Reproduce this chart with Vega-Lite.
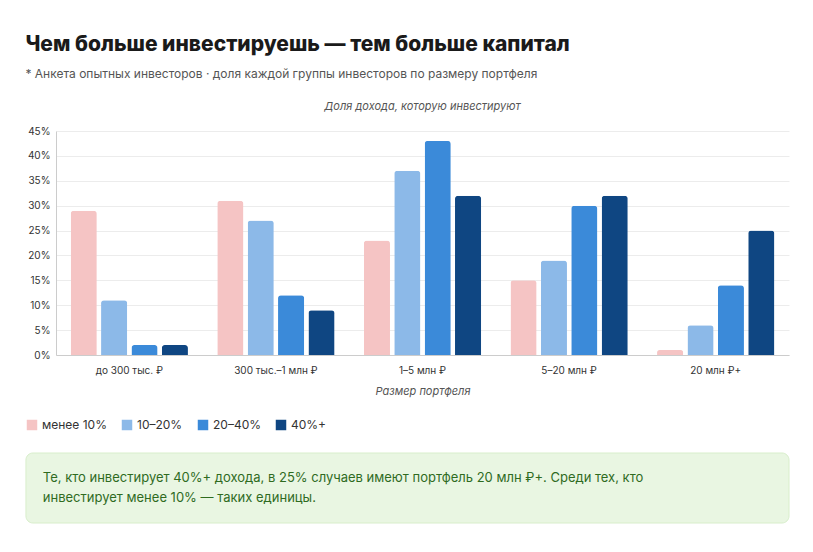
{
  "$schema": "https://vega.github.io/schema/vega-lite/v6.json",
  "background": "white",
  "padding": {"left": 25, "right": 25, "top": 34, "bottom": 10},
  "title": {
    "text": "Чем больше инвестируешь — тем больше капитал",
    "subtitle": "* Анкета опытных инвесторов · доля каждой группы инвесторов по размеру портфеля",
    "anchor": "start", "font": "Inter", "fontSize": 21, "fontWeight": 800, "color": "#1a1a1a",
    "subtitleFont": "Inter", "subtitleFontSize": 12, "subtitleColor": "#555", "subtitlePadding": 14, "offset": 21
  },
  "config": {"font": "Inter", "view": {"stroke": null}},
  "vconcat": [
    {
      "width": 733, "height": 224,
      "title": {"text": "Доля дохода, которую инвестируют", "fontStyle": "italic", "fontWeight": "normal", "fontSize": 11, "color": "#555", "offset": 14},
      "data": {"values": [
        {"g": "до 300 тыс. ₽", "c": "менее 10%", "v": 0.29},
        {"g": "до 300 тыс. ₽", "c": "10–20%", "v": 0.11},
        {"g": "до 300 тыс. ₽", "c": "20–40%", "v": 0.02},
        {"g": "до 300 тыс. ₽", "c": "40%+", "v": 0.02},
        {"g": "300 тыс.–1 млн ₽", "c": "менее 10%", "v": 0.31},
        {"g": "300 тыс.–1 млн ₽", "c": "10–20%", "v": 0.27},
        {"g": "300 тыс.–1 млн ₽", "c": "20–40%", "v": 0.12},
        {"g": "300 тыс.–1 млн ₽", "c": "40%+", "v": 0.09},
        {"g": "1–5 млн ₽", "c": "менее 10%", "v": 0.23},
        {"g": "1–5 млн ₽", "c": "10–20%", "v": 0.37},
        {"g": "1–5 млн ₽", "c": "20–40%", "v": 0.43},
        {"g": "1–5 млн ₽", "c": "40%+", "v": 0.32},
        {"g": "5–20 млн ₽", "c": "менее 10%", "v": 0.15},
        {"g": "5–20 млн ₽", "c": "10–20%", "v": 0.19},
        {"g": "5–20 млн ₽", "c": "20–40%", "v": 0.30},
        {"g": "5–20 млн ₽", "c": "40%+", "v": 0.32},
        {"g": "20 млн ₽+", "c": "менее 10%", "v": 0.01},
        {"g": "20 млн ₽+", "c": "10–20%", "v": 0.06},
        {"g": "20 млн ₽+", "c": "20–40%", "v": 0.14},
        {"g": "20 млн ₽+", "c": "40%+", "v": 0.25}
      ]},
      "mark": {"type": "bar", "cornerRadiusTopLeft": 3, "cornerRadiusTopRight": 3},
      "encoding": {
        "x": {"field": "g", "type": "nominal", "sort": null, "scale": {"paddingInner": 0.2, "paddingOuter": 0.1},
          "axis": {"labelAngle": 0, "title": "Размер портфеля", "titleFontStyle": "italic", "titleFontWeight": "normal", "titleFontSize": 11, "titleColor": "#555", "titlePadding": 10, "labelFontSize": 10, "labelColor": "#333", "labelPadding": 10, "ticks": false, "domainColor": "#ccc"}},
        "xOffset": {"field": "c", "type": "nominal", "sort": ["менее 10%", "10–20%", "20–40%", "40%+"], "scale": {"paddingInner": 0.14}},
        "y": {"field": "v", "type": "quantitative", "scale": {"domain": [0, 0.45]},
          "axis": {"title": null, "format": ".0%", "values": [0, 0.05, 0.1, 0.15, 0.2, 0.25, 0.3, 0.35, 0.4, 0.45], "gridColor": "#ececec", "domainColor": "#ccc", "ticks": false, "labelFontSize": 10, "labelColor": "#333", "labelPadding": 6}},
        "color": {"field": "c", "type": "nominal", "sort": ["менее 10%", "10–20%", "20–40%", "40%+"],
          "scale": {"domain": ["менее 10%", "10–20%", "20–40%", "40%+"], "range": ["#f5c4c4", "#8cb9e8", "#3b8ad9", "#0f4682"]},
          "legend": {"orient": "none", "legendX": -30, "legendY": 288, "direction": "horizontal", "title": null, "symbolType": "square", "symbolSize": 110, "labelFontSize": 12, "labelColor": "#333", "columnPadding": 14}}
      }
    },
    {
      "width": 733, "height": 70,
      "layer": [
        {
          "data": {"values": [{"x0": -0.041, "x1": 1, "y0": 0, "y1": 1}]},
          "mark": {"type": "rect", "color": "#e9f6e2", "stroke": "#d8eecb", "cornerRadius": 7},
          "encoding": {
            "x": {"field": "x0", "type": "quantitative", "scale": {"domain": [0, 1]}, "axis": null},
            "x2": {"field": "x1"},
            "y": {"field": "y0", "type": "quantitative", "scale": {"domain": [1, 0]}, "axis": null},
            "y2": {"field": "y1"}
          }
        },
        {
          "data": {"values": [
            {"t": "Те, кто инвестирует 40%+ дохода, в 25% случаев имеют портфель 20 млн ₽+. Среди тех, кто", "x": -0.018, "y": 0.36},
            {"t": "инвестирует менее 10% — таких единицы.", "x": -0.018, "y": 0.64}
          ]},
          "mark": {"type": "text", "align": "left", "baseline": "middle", "fontSize": 13, "color": "#2f6b1f"},
          "encoding": {
            "x": {"field": "x", "type": "quantitative"},
            "y": {"field": "y", "type": "quantitative"},
            "text": {"field": "t"}
          }
        }
      ]
    }
  ],
  "spacing": 56
}
